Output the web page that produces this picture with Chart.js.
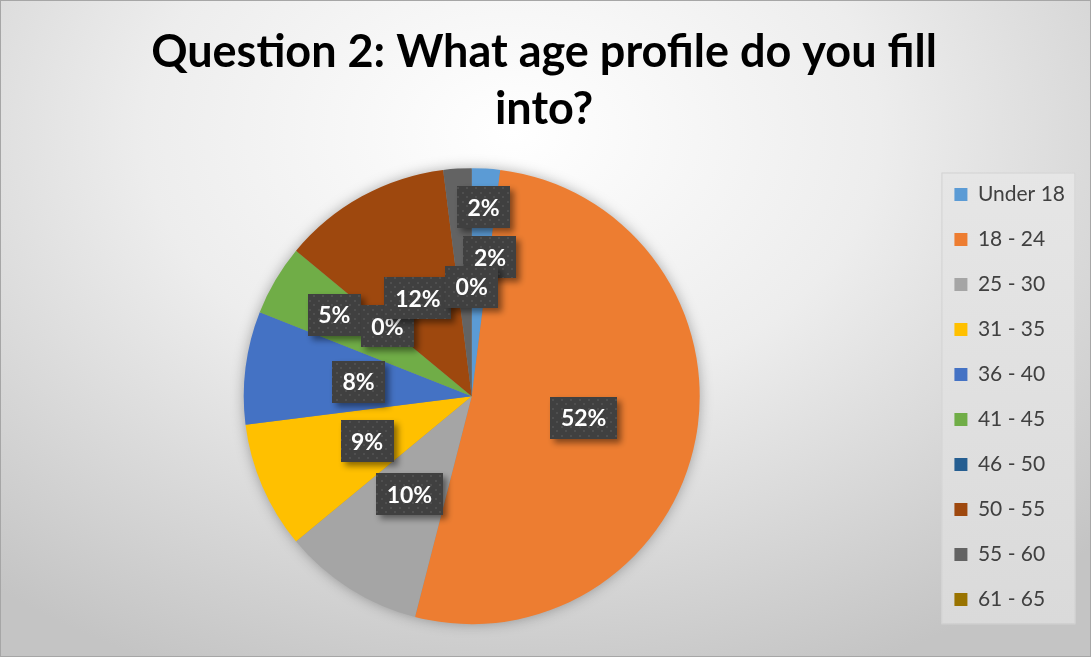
<!DOCTYPE html>
<html>
<head>
<meta charset="utf-8">
<script src="https://cdn.jsdelivr.net/npm/chart.js@4/dist/chart.umd.min.js"></script>
<style>
  html, body { margin: 0; padding: 0; }
  #wrap {
    width: 1091px; height: 657px; box-sizing: border-box;
    border: 1px solid #a6a6a6; position: relative;
    background: radial-gradient(ellipse 75% 90% at 47% 20%, #ffffff 0%, #ededed 45%, #c4c4c4 100%);
  }
</style>
</head>
<body>
<div id="wrap"><canvas id="ageChart"></canvas></div>
<script>
        // Data survei usia
        const ageGroups = ['Under 18', '18 - 24', '25 - 30', '31 - 35', '36 - 40', '41 - 45', '46 - 50', '50 - 55', '55 - 60', '61 - 65'];
        const responseShare = [2, 52, 10, 9, 8, 5, 0, 12, 2, 0];
        const sliceColors = ['#5B9BD5', '#ED7D31', '#A5A5A5', '#FFC000', '#4472C4', '#70AD47', '#255E91', '#9E480E', '#636363', '#997300'];

        // Posisi tag persen: fraksi jari-jari + geser horizontal (px)
        const tagRadius = [0.83, 0.5, 0.51, 0.5, 0.5, 0.7, 0.48, 0.49, 0.61, 0.48];
        const tagNudgeX = [0, 0, 0, 0, 0, 0, 0, 0, 27, 0];

        let ageChartInstance = null;

        // pola titik halus untuk kotak label
        function makeDotPattern(ctx) {
            const c = document.createElement('canvas');
            c.width = 9; c.height = 9;
            const g = c.getContext('2d');
            g.fillStyle = '#404040';
            g.fillRect(0, 0, 9, 9);
            g.fillStyle = 'rgba(255,255,255,0.08)';
            g.fillRect(2, 2, 2, 2);
            g.fillRect(6, 6, 2, 2);
            return ctx.createPattern(c, 'repeat');
        }

        // Kotak latar legenda
        const legendPanel = {
            id: 'legendPanel',
            beforeDraw(chart) {
                const lg = chart.legend;
                if (!lg || !lg.legendHitBoxes.length) return;
                const hb = lg.legendHitBoxes;
                const first = hb[0], last = hb[hb.length - 1];
                const left = first.left - 13;
                const top = first.top + first.height / 2 - 22;
                const bottom = last.top + last.height / 2 + 24;
                const ctx = chart.ctx;
                ctx.save();
                const grad = ctx.createLinearGradient(0, top, 0, bottom);
                grad.addColorStop(0, '#e6e6e6');
                grad.addColorStop(1, '#dadada');
                ctx.fillStyle = grad;
                ctx.fillRect(left, top, 134, bottom - top);
                ctx.strokeStyle = '#d2d2d2';
                ctx.lineWidth = 1;
                ctx.strokeRect(left + 0.5, top + 0.5, 133, bottom - top);
                ctx.restore();
            }
        };

        // Bayangan lembut di belakang pie
        const pieShadow = {
            id: 'pieShadow',
            beforeDatasetsDraw(chart) {
                const arc = chart.getDatasetMeta(0).data[0];
                if (!arc) return;
                const p = arc.getProps(['x', 'y', 'outerRadius'], true);
                const ctx = chart.ctx;
                ctx.save();
                ctx.shadowColor = 'rgba(0,0,0,0.35)';
                ctx.shadowBlur = 14;
                ctx.fillStyle = '#888';
                ctx.beginPath();
                ctx.arc(p.x, p.y, p.outerRadius - 1, 0, Math.PI * 2);
                ctx.fill();
                ctx.restore();
            }
        };

        // Tag persen dengan kotak gelap
        const percentTags = {
            id: 'percentTags',
            afterDatasetsDraw(chart) {
                const ctx = chart.ctx;
                const meta = chart.getDatasetMeta(0);
                const pattern = makeDotPattern(ctx);
                ctx.save();
                ctx.font = "bold 23px Lato";
                ctx.textAlign = 'center';
                ctx.textBaseline = 'middle';
                meta.data.forEach((arc, i) => {
                    const p = arc.getProps(['x', 'y', 'startAngle', 'endAngle', 'outerRadius'], true);
                    const mid = (p.startAngle + p.endAngle) / 2;
                    const r = p.outerRadius * tagRadius[i];
                    const cx = p.x + Math.cos(mid) * r + tagNudgeX[i];
                    const cy = p.y + Math.sin(mid) * r;
                    const text = responseShare[i] + '%';
                    const w = Math.round(ctx.measureText(text).width + 21);
                    const h = 42;

                    ctx.shadowColor = 'rgba(0,0,0,0.45)';
                    ctx.shadowBlur = 6;
                    ctx.shadowOffsetX = 4;
                    ctx.shadowOffsetY = 4;
                    ctx.fillStyle = pattern;
                    ctx.fillRect(Math.round(cx - w / 2), Math.round(cy - h / 2), w, h);

                    ctx.shadowColor = 'transparent';
                    ctx.fillStyle = '#ffffff';
                    ctx.fillText(text, cx, cy + 1);
                });
                ctx.restore();
            }
        };

        function renderAgeChart() {
            const ctx = document.getElementById('ageChart');
            if (!ctx) return;

            if (ageChartInstance) {
                ageChartInstance.destroy();
            }

            ageChartInstance = new Chart(ctx, {
                type: 'pie',
                data: {
                    labels: ageGroups,
                    datasets: [{
                        data: responseShare,
                        backgroundColor: sliceColors,
                        borderWidth: 0,
                        radius: 228
                    }]
                },
                options: {
                    responsive: true,
                    maintainAspectRatio: false,
                    animation: false,
                    layout: {
                        padding: { top: 0, bottom: 22, left: 12, right: 15 }
                    },
                    plugins: {
                        title: {
                            display: true,
                            text: ['Question 2: What age profile do you fill', 'into?'],
                            color: '#000000',
                            font: { family: 'Lato', size: 45, weight: 'bold', lineHeight: 1.27 },
                            padding: { top: 23, bottom: 20 }
                        },
                        legend: {
                            position: 'right',
                            align: 'end',
                            labels: {
                                color: '#404040',
                                font: { family: 'Lato', size: 21 },
                                boxWidth: 13,
                                boxHeight: 13,
                                padding: 24
                            }
                        },
                        tooltip: { enabled: false }
                    }
                },
                plugins: [legendPanel, pieShadow, percentTags]
            });
        }

        renderAgeChart();
</script>
</body>
</html>
